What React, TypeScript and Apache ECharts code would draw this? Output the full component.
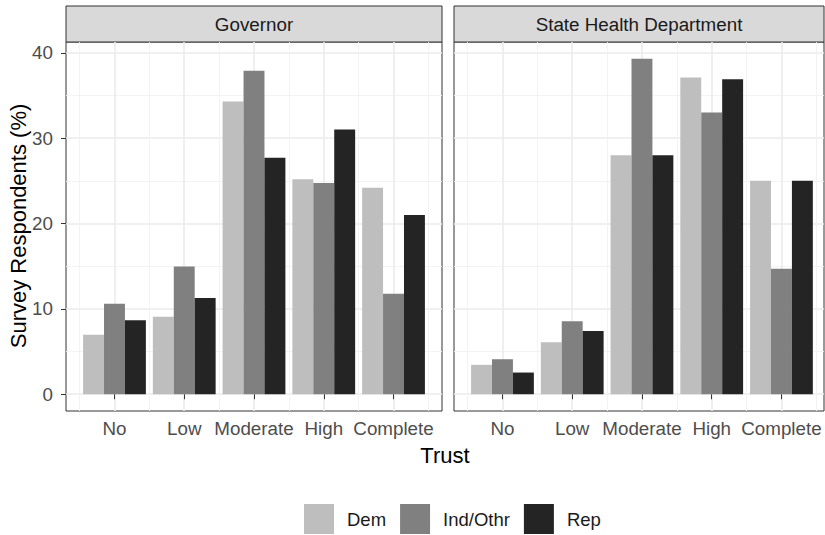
import { useEffect, useRef } from 'react';
import * as echarts from 'echarts';

const categories = ['No', 'Low', 'Moderate', 'High', 'Complete'];
const panels = ['Governor', 'State Health Department'];
const groups = ['Dem', 'Ind/Othr', 'Rep'];
const groupColors = ['#bebebe', '#808080', '#242424'];

const governorDem = [6.96, 9.07, 34.3, 25.2, 24.2];
const governorInd = [10.6, 14.97, 37.9, 24.75, 11.77];
const governorRep = [8.68, 11.26, 27.7, 31.0, 21.0];
const healthDem = [3.44, 6.1, 28.0, 37.1, 25.0];
const healthInd = [4.1, 8.56, 39.3, 33.0, 14.7];
const healthRep = [2.54, 7.42, 28.0, 36.9, 25.0];

const xPositions = [1, 2, 3, 4, 5];
const xMinorPositions = [0.5, 1.5, 2.5, 3.5, 4.5, 5.5];
const yTicks = [0, 10, 20, 30, 40];
const yMinorTicks = [5, 15, 25, 35];

const yTitle = 'Survey Respondents (%)';
const xTitle = 'Trust';

const panelValues = [
  [governorDem, governorInd, governorRep],
  [healthDem, healthInd, healthRep],
];

const PANEL_TOP = 42;
const PANEL_H = 369;
const panelLeft = [66, 454];
const panelWidth = [376, 370];
const X_MIN = 0.305;
const xMax = [5.695, 5.61];
const Y_MIN = -1.965;
const Y_MAX = 41.265;
const BAR_W = 0.3;

const TICK_COLOR = '#333333';
const LABEL_COLOR = '#4d4d4d';
const FONT = 'Liberation Sans, Arial, Helvetica, sans-serif';
const SMALL = 18.8;

export default function App() {
  const ref = useRef<HTMLDivElement>(null);
  useEffect(() => {
    document.body.style.margin = '0';
    if (!ref.current) return;
    const chart = echarts.init(ref.current, null, { renderer: 'svg' });

    const grids: any[] = [];
    const xAxes: any[] = [];
    const yAxes: any[] = [];
    const series: any[] = [];
    const graphics: any[] = [];

    panels.forEach((name, p) => {
      grids.push({
        left: panelLeft[p],
        top: PANEL_TOP,
        width: panelWidth[p],
        height: PANEL_H,
        show: true,
        backgroundColor: '#ffffff',
        borderColor: TICK_COLOR,
        borderWidth: 1,
        containLabel: false,
      });
      xAxes.push({
        type: 'value',
        gridIndex: p,
        min: X_MIN,
        max: xMax[p],
        axisLine: { show: false },
        axisTick: { show: true, length: 5, lineStyle: { color: TICK_COLOR, width: 1 }, customValues: xPositions },
        axisLabel: {
          show: true,
          customValues: xPositions,
          formatter: (v: number) => categories[Math.round(v) - 1] ?? '',
          color: LABEL_COLOR,
          fontSize: SMALL,
          fontFamily: FONT,
          margin: 8,
        },
        splitLine: { show: true, lineStyle: { color: '#ebebeb', width: 1.6 } },
      });
      xAxes.push({
        type: 'value',
        gridIndex: p,
        min: X_MIN,
        max: xMax[p],
        axisLine: { show: false },
        axisTick: { show: false, customValues: xMinorPositions },
        axisLabel: { show: false, customValues: xMinorPositions },
        splitLine: { show: true, lineStyle: { color: '#f2f2f2', width: 0.9 } },
      });
      yAxes.push({
        type: 'value',
        gridIndex: p,
        min: Y_MIN,
        max: Y_MAX,
        axisLine: { show: false },
        axisTick: { show: p === 0, length: 5, lineStyle: { color: TICK_COLOR, width: 1 }, customValues: yTicks },
        axisLabel: {
          show: p === 0,
          customValues: yTicks,
          color: LABEL_COLOR,
          fontSize: SMALL,
          fontFamily: FONT,
          margin: 13,
        },
        splitLine: { show: true, lineStyle: { color: '#ebebeb', width: 1.6 } },
      });
      yAxes.push({
        type: 'value',
        gridIndex: p,
        min: Y_MIN,
        max: Y_MAX,
        axisLine: { show: false },
        axisTick: { show: false, customValues: yMinorTicks },
        axisLabel: { show: false, customValues: yMinorTicks },
        splitLine: { show: true, lineStyle: { color: '#f2f2f2', width: 0.9 } },
      });

      groups.forEach((g, gi) => {
        const vals = panelValues[p][gi];
        series.push({
          type: 'custom',
          name: g,
          xAxisIndex: p * 2,
          yAxisIndex: p * 2,
          itemStyle: { color: groupColors[gi] },
          encode: { x: 0, y: 1 },
          data: vals.map((v, i) => [xPositions[i], v]),
          renderItem: (params: any, api: any) => {
            const cx = api.value(0) + (gi - 1) * BAR_W;
            const v = api.value(1);
            const a = api.coord([cx - BAR_W / 2, v]);
            const b = api.coord([cx + BAR_W / 2, 0]);
            return {
              type: 'rect',
              shape: { x: a[0], y: a[1], width: b[0] - a[0], height: b[1] - a[1] },
              style: api.style(),
            };
          },
        });
      });

      graphics.push({
        type: 'rect',
        shape: { x: panelLeft[p], y: 6, width: panelWidth[p], height: PANEL_TOP - 6 },
        style: { fill: '#d9d9d9', stroke: TICK_COLOR, lineWidth: 1 },
      });
      graphics.push({
        type: 'text',
        x: panelLeft[p] + panelWidth[p] / 2,
        y: 24,
        style: {
          text: name,
          fill: '#1a1a1a',
          fontSize: SMALL,
          fontFamily: FONT,
          align: 'center',
          verticalAlign: 'middle',
        },
      });
    });

    graphics.push({
      type: 'text',
      x: 18,
      y: 226,
      rotation: Math.PI / 2,
      style: {
        text: yTitle,
        fill: '#000000',
        fontSize: 22,
        fontFamily: FONT,
        align: 'center',
        verticalAlign: 'middle',
      },
    });
    graphics.push({
      type: 'text',
      x: 445,
      y: 455,
      style: {
        text: xTitle,
        fill: '#000000',
        fontSize: 22,
        fontFamily: FONT,
        align: 'center',
        verticalAlign: 'middle',
      },
    });

    chart.setOption({
      animation: false,
      backgroundColor: '#ffffff',
      grid: grids,
      xAxis: xAxes,
      yAxis: yAxes,
      series,
      graphic: graphics,
      legend: {
        data: groups,
        icon: 'rect',
        itemWidth: 30,
        itemHeight: 30,
        itemGap: 14,
        left: 304,
        top: 504,
        padding: 0,
        selectedMode: false,
        textStyle: { fontSize: 18.5, color: '#1a1a1a', fontFamily: FONT, padding: [0, 0, 0, 8] },
      },
    });
    return () => chart.dispose();
  }, []);
  return <div ref={ref} style={{ width: 825, height: 535 }} />;
}
